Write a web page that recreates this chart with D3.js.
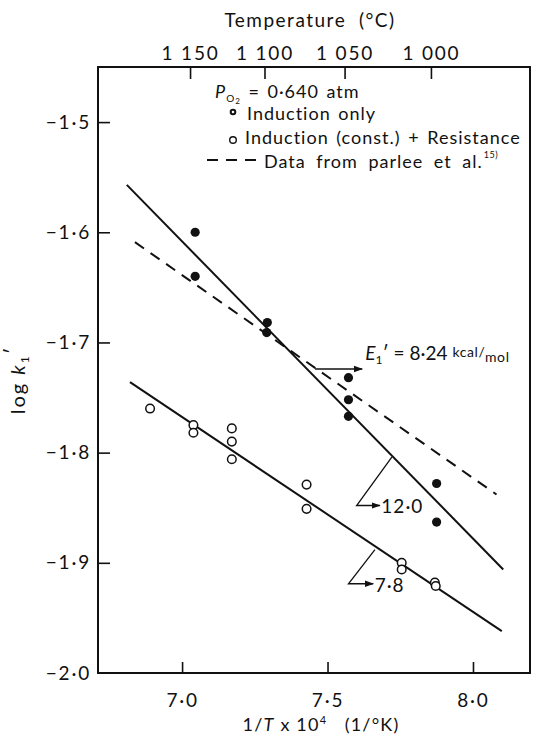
<!DOCTYPE html>
<html>
<head>
<meta charset="utf-8">
<script src="https://cdn.jsdelivr.net/npm/d3@7"></script>
<style>
  body { margin: 0; background: #fff; }
  svg text { font-family: Lato, "DejaVu Sans", sans-serif; fill: #111; }
  .frame { fill: none; stroke: #111; stroke-width: 2; }
  .tick line { stroke: #111; stroke-width: 1.6; }
  .fit { fill: none; stroke: #111; stroke-width: 2; }
</style>
</head>
<body>
<svg id="chart"></svg>
<script>
// data
var inductionX = [7.045, 7.045, 7.293, 7.291, 7.572, 7.572, 7.572, 7.875, 7.875];
var inductionY = [-1.600, -1.640, -1.682, -1.691, -1.732, -1.752, -1.767, -1.828, -1.863];

var resistX = [6.890, 7.039, 7.039, 7.171, 7.171, 7.171, 7.428, 7.428, 7.755, 7.755, 7.869, 7.872];
var resistY = [-1.760, -1.775, -1.782, -1.778, -1.790, -1.806, -1.829, -1.851, -1.900, -1.906, -1.918, -1.921];

// fitted lines (end points)
var inductionFit = [[6.81, -1.557], [8.104, -1.906]];
var resistFit = [[6.821, -1.736], [8.099, -1.962]];
var parleeFit = [[6.838, -1.609], [8.081, -1.838]];

var xTicks = [7.0, 7.5, 8.0];
var xTickLabels = ["7·0", "7·5", "8·0"];
var yTicks = [-2.0, -1.9, -1.8, -1.7, -1.6, -1.5];
var yTickLabels = ["−2·0", "−1·9", "−1·8", "−1·7", "−1·6", "−1·5"];
var tempTicks = [1150, 1100, 1050, 1000];
var tempLabels = ["1 150", "1 100", "1 050", "1 000"];

var width = 536, height = 740;
var svg = d3.select("#chart").attr("width", width).attr("height", height);

var xScale = d3.scaleLinear().domain([6.711, 8.196]).range([98, 530]);
var yScale = d3.scaleLinear().domain([-2.0, -1.45]).range([673, 67]);

// frame
svg.append("rect").attr("class", "frame")
  .attr("x", xScale(6.711)).attr("y", yScale(-1.45))
  .attr("width", xScale(8.196) - xScale(6.711))
  .attr("height", yScale(-2.0) - yScale(-1.45));

var yAxis = d3.axisLeft(yScale).tickValues(yTicks)
  .tickFormat(function(d, i) { return yTickLabels[i]; })
  .tickSize(-12).tickPadding(7).tickSizeOuter(0);
var gy = svg.append("g").attr("transform", "translate(" + xScale(6.711) + ",0)").call(yAxis);

var xAxis = d3.axisBottom(xScale).tickValues(xTicks)
  .tickFormat(function(d, i) { return xTickLabels[i]; })
  .tickSize(-11).tickPadding(21).tickSizeOuter(0);
var gx = svg.append("g").attr("transform", "translate(0," + yScale(-2.0) + ")").call(xAxis);

// temperature axis along the top: 1/T x 10^4
var tAxis = d3.axisTop(xScale)
  .tickValues(tempTicks.map(function(c) { return 1e4 / (c + 273); }))
  .tickFormat(function(d, i) { return tempLabels[i]; })
  .tickSize(-12).tickPadding(7).tickSizeOuter(0);
var gt = svg.append("g").attr("transform", "translate(0," + yScale(-1.45) + ")").call(tAxis);

[gx, gy, gt].forEach(function(g) {
  g.select(".domain").remove();
  g.selectAll("text").style("font-size", "19px").style("letter-spacing", "1.8px").attr("fill", "#111");
});
gy.selectAll(".tick").filter(function(d) { return d == -2.0; }).select("line").remove();

// fit lines
var line = d3.line().x(function(d) { return xScale(d[0]); }).y(function(d) { return yScale(d[1]); });
svg.append("path").attr("class", "fit").attr("d", line(inductionFit));
svg.append("path").attr("class", "fit").attr("d", line(resistFit));
svg.append("path").attr("class", "fit").attr("d", line(parleeFit))
  .attr("stroke-dasharray", "11,8").attr("stroke-width", 1.8);

// points
svg.append("g").selectAll("circle").data(inductionX).enter().append("circle")
  .attr("cx", function(d) { return xScale(d); })
  .attr("cy", function(d, i) { return yScale(inductionY[i]); })
  .attr("r", 4.6).attr("fill", "#111");

svg.append("g").selectAll("circle").data(resistX).enter().append("circle")
  .attr("cx", function(d) { return xScale(d); })
  .attr("cy", function(d, i) { return yScale(resistY[i]); })
  .attr("r", 4.3).attr("fill", "#fff").attr("stroke", "#111").attr("stroke-width", 1.5);

// arrows
svg.append("defs").append("marker").attr("id", "arr")
  .attr("viewBox", "0 0 10 10").attr("refX", 9).attr("refY", 5)
  .attr("markerWidth", 7).attr("markerHeight", 7).attr("orient", "auto")
  .append("path").attr("d", "M0,1.5 L10,5 L0,8.5 Z").attr("fill", "#111");

var eArrow = [[7.457, -1.7241], [7.619, -1.7241]];
svg.append("path").attr("d", line(eArrow)).attr("stroke", "#111").attr("stroke-width", 1.3)
  .attr("fill", "none").attr("marker-end", "url(#arr)");
var eText = svg.append("text").attr("x", xScale(7.63)).attr("y", yScale(-1.7155)).style("font-size", "19px");
eText.append("tspan").style("font-style", "italic").text("E");
eText.append("tspan").attr("dy", 4).style("font-size", "12px").text("1");
eText.append("tspan").attr("dy", -4).text("′ = 8·24 ");
eText.append("tspan").attr("dy", -3).style("font-size", "14px").style("letter-spacing", "0.6px").text("kcal/");
eText.append("tspan").attr("dy", 5).style("font-size", "14px").style("letter-spacing", "0.6px").text("mol");

var lead12 = [[7.721, -1.804], [7.600, -1.848], [7.680, -1.848]];
svg.append("path").attr("d", line(lead12)).attr("stroke", "#111").attr("stroke-width", 1.3)
  .attr("fill", "none").attr("marker-end", "url(#arr)");
svg.append("text").attr("x", xScale(7.685)).attr("y", yScale(-1.855))
  .style("font-size", "19px").style("letter-spacing", "1px").text("12·0");

var lead78 = [[7.663, -1.888], [7.572, -1.919], [7.657, -1.919]];
svg.append("path").attr("d", line(lead78)).attr("stroke", "#111").attr("stroke-width", 1.3)
  .attr("fill", "none").attr("marker-end", "url(#arr)");
svg.append("text").attr("x", xScale(7.662)).attr("y", yScale(-1.9265))
  .style("font-size", "19px").style("letter-spacing", "1px").text("7·8");

// legend
var lg = svg.append("g").style("font-size", "18px").style("letter-spacing", "1px").style("word-spacing", "2px");
var p = lg.append("text").attr("x", 215).attr("y", 98);
p.append("tspan").style("font-style", "italic").text("P");
p.append("tspan").attr("dy", 4).style("font-size", "10px").text("O");
p.append("tspan").attr("dy", 2).style("font-size", "8px").text("2");
p.append("tspan").attr("dy", -6).text(" = 0·640 atm");

lg.append("circle").attr("cx", 233).attr("cy", 112).attr("r", 2.3)
  .attr("fill", "#fff").attr("stroke", "#111").attr("stroke-width", 2);
lg.append("text").attr("x", 247).attr("y", 120).text("Induction only");

lg.append("circle").attr("cx", 233).attr("cy", 140).attr("r", 3.3)
  .attr("fill", "#fff").attr("stroke", "#111").attr("stroke-width", 1.4);
lg.append("text").attr("x", 245).attr("y", 144).text("Induction (const.) + Resistance");

lg.append("line").attr("x1", 207).attr("x2", 256).attr("y1", 160).attr("y2", 160)
  .attr("stroke", "#111").attr("stroke-width", 1.8).attr("stroke-dasharray", "11,8");
var pt = lg.append("text").attr("x", 264).attr("y", 168).style("word-spacing", "5px").text("Data from parlee et al.");
var ptEnd = 264 + pt.node().getComputedTextLength();
lg.append("text").attr("x", ptEnd + 1).attr("y", 158).style("font-size", "9px").style("letter-spacing", "0.5px").text("15)");

// axis titles
svg.append("text").attr("x", 310).attr("y", 27).attr("text-anchor", "middle")
  .style("font-size", "19px").style("letter-spacing", "1.5px").style("white-space", "pre")
  .text("Temperature  (°C)");

var xt = svg.append("text").attr("x", 321).attr("y", 731).attr("text-anchor", "middle")
  .style("font-size", "18px").style("letter-spacing", "1.2px").style("white-space", "pre");
xt.append("tspan").text("1/");
xt.append("tspan").style("font-style", "italic").text("T");
xt.append("tspan").text(" x 10");
xt.append("tspan").attr("dy", -7).style("font-size", "11px").text("4");
xt.append("tspan").attr("dy", 7).text("   (1/°K)");

var yt = svg.append("text").attr("transform", "translate(25,380) rotate(-90)")
  .attr("text-anchor", "middle").style("font-size", "20px").style("letter-spacing", "2px");
yt.append("tspan").text("log ");
yt.append("tspan").style("font-style", "italic").text("k");
yt.append("tspan").attr("dy", 4).style("font-size", "12px").text("1");
yt.append("tspan").attr("dy", -10).text("′");
</script>
</body>
</html>
